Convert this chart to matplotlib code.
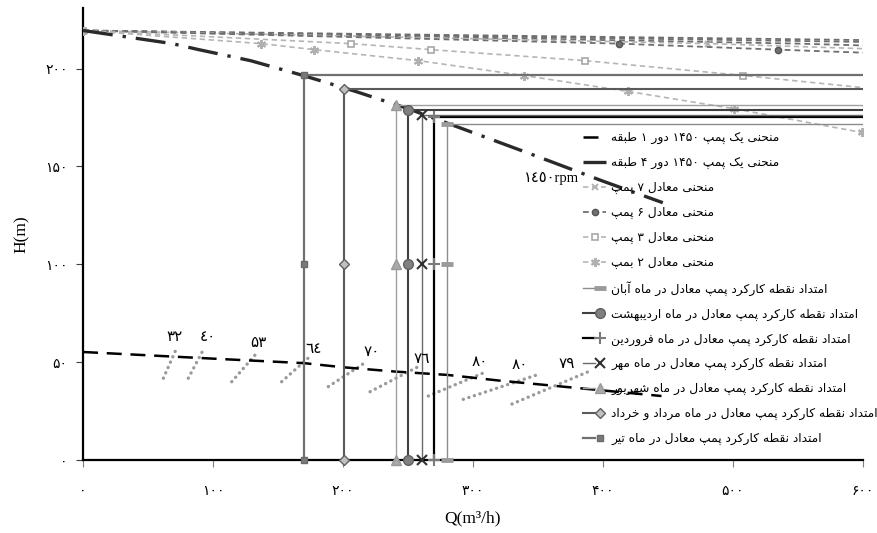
import re
import matplotlib
matplotlib.use("Agg")
import matplotlib.pyplot as plt
from matplotlib.legend_handler import HandlerTuple
from matplotlib.font_manager import FontProperties

# ---------------- simple Arabic/Persian shaping for display ----------------
DUAL = {
    'ب': (0xFE8F, 0xFE90, 0xFE91, 0xFE92), 'پ': (0xFB56, 0xFB57, 0xFB58, 0xFB59),
    'ت': (0xFE95, 0xFE96, 0xFE97, 0xFE98), 'ث': (0xFE99, 0xFE9A, 0xFE9B, 0xFE9C),
    'ج': (0xFE9D, 0xFE9E, 0xFE9F, 0xFEA0), 'چ': (0xFB7A, 0xFB7B, 0xFB7C, 0xFB7D),
    'ح': (0xFEA1, 0xFEA2, 0xFEA3, 0xFEA4), 'خ': (0xFEA5, 0xFEA6, 0xFEA7, 0xFEA8),
    'س': (0xFEB1, 0xFEB2, 0xFEB3, 0xFEB4), 'ش': (0xFEB5, 0xFEB6, 0xFEB7, 0xFEB8),
    'ط': (0xFEC1, 0xFEC2, 0xFEC3, 0xFEC4), 'ع': (0xFEC9, 0xFECA, 0xFECB, 0xFECC),
    'ف': (0xFED1, 0xFED2, 0xFED3, 0xFED4), 'ق': (0xFED5, 0xFED6, 0xFED7, 0xFED8),
    'ک': (0xFB8E, 0xFB8F, 0xFB90, 0xFB91), 'گ': (0xFB92, 0xFB93, 0xFB94, 0xFB95),
    'ل': (0xFEDD, 0xFEDE, 0xFEDF, 0xFEE0), 'م': (0xFEE1, 0xFEE2, 0xFEE3, 0xFEE4),
    'ن': (0xFEE5, 0xFEE6, 0xFEE7, 0xFEE8), 'ه': (0xFEE9, 0xFEEA, 0xFEEB, 0xFEEC),
    'ی': (0xFBFC, 0xFBFD, 0xFBFE, 0xFBFF),
}
RIGHT = {
    'ا': (0xFE8D, 0xFE8E), 'آ': (0xFE81, 0xFE82), 'د': (0xFEA9, 0xFEAA),
    'ذ': (0xFEAB, 0xFEAC), 'ر': (0xFEAD, 0xFEAE), 'ز': (0xFEAF, 0xFEB0),
    'ژ': (0xFB8A, 0xFB8B), 'و': (0xFEED, 0xFEEE),
}


def rtl(s):
    out = []
    for i, c in enumerate(s):
        if c in DUAL or c in RIGHT:
            prev = s[i - 1] if i > 0 else ''
            nxt = s[i + 1] if i < len(s) - 1 else ''
            jp = prev in DUAL
            jn = c in DUAL and (nxt in DUAL or nxt in RIGHT)
            f = DUAL.get(c) or RIGHT.get(c)
            if jp and jn:
                out.append(chr(f[3]))
            elif jp:
                out.append(chr(f[1]))
            elif jn:
                out.append(chr(f[2]))
            else:
                out.append(chr(f[0]))
        else:
            out.append(c)
    toks = re.findall(r'[0-9\u0660-\u0669\u06F0-\u06F9]+|.', ''.join(out))
    return ''.join(reversed(toks))


# ---------------- data ----------------
x_max = 600
y_max = 231

# one pump, 1450 rpm, 1 stage
q_1stage = [0, 100, 170, 200, 240, 280, 320, 445]
h_1stage = [55.2, 51.8, 49.5, 47.4, 45.2, 43.5, 40.6, 32.7]

# one pump, 1450 rpm, 4 stages
q_4stage = [0, 68.7, 89.2, 128.8, 169.4, 209.5, 250.3, 299.6, 350, 400, 446]
h_4stage = [219.5, 212.8, 209.7, 204.1, 196.5, 188.4, 179.5, 167.4, 155, 142.5, 131.5]

# equivalent curves (legend entries)
q_7pump = [0, 481, 624, 902]
h_7pump = [219.5, 212.8, 209.7, 204.1]
q_6pump = [0, 412, 535, 773]
h_6pump = [219.5, 212.8, 209.7, 204.1]
q_3pump = [0, 206, 268, 386, 508, 628]
h_3pump = [219.5, 212.8, 209.7, 204.1, 196.5, 188.4]
q_2pump = [0, 137, 178, 258, 339, 419, 501, 599]
h_2pump = [219.5, 212.8, 209.7, 204.1, 196.5, 188.4, 179.5, 167.4]

# further equivalent curves in the top bundle (no legend entry)
q_bundle_a = [0, 550, 714]
h_bundle_a = [219.5, 212.8, 209.7]
q_bundle_b = [0, 687, 892]
h_bundle_b = [219.5, 212.8, 209.7]
q_bundle_c = [0, 824, 1070]
h_bundle_c = [219.5, 212.8, 209.7]

# operating points per month
months = ['آبان', 'اردیبهشت', 'فروردین', 'مهر', 'شهریور', 'مرداد و خرداد', 'تیر']
op_q = [280, 250, 270, 260.8, 240.5, 200.5, 170.2]
op_h = [171.9, 178.7, 175.1, 176.5, 181.6, 189.6, 196.6]
mid_h = 100

# efficiency marks
eff_labels = ['٣٢', '٤٠', '۵٣', '٦٤', '٧٠', '٧٦', '٨٠', '٨٠', '٧٩']
eff_q0 = [61.8, 81.0, 114.4, 152.8, 188.7, 220.8, 265.6, 292.5, 330.0]
eff_h0 = [41.8, 41.8, 40.0, 40.0, 37.5, 34.9, 32.7, 31.0, 28.6]
eff_q1 = [72.0, 92.5, 133.6, 175.9, 218.2, 260.5, 310.5, 349.2, 390.0]
eff_h1 = [57.1, 56.3, 54.6, 53.7, 50.3, 48.6, 45.2, 43.5, 45.5]
eff_lq = [70.8, 96.4, 134.8, 177.2, 222.0, 260.5, 305.4, 336.0, 372.0]
eff_lh = [63.1, 63.1, 60.0, 57.1, 55.4, 52.0, 50.3, 48.6, 49.5]

x_ticks = [0, 100, 200, 300, 400, 500, 600]
x_ticklabels = ['۰', '۱۰۰', '۲۰۰', '۳۰۰', '۴۰۰', '۵۰۰', '۶۰۰']
y_ticks = [0, 50, 100, 150, 200]
y_ticklabels = ['۰', '۵۰', '۱۰۰', '۱۵۰', '۲۰۰']

# ---------------- styles ----------------
plt.rcParams['font.family'] = ['Liberation Serif', 'DejaVu Sans']

month_style = {
    'آبان': dict(lc='#8c8c8c', lw=1.0, marker='_', ms=9, mfc='#9a9a9a', mec='#9a9a9a', mew=3.5),
    'اردیبهشت': dict(lc='#404040', lw=1.5, marker='o', ms=7, mfc='#808080', mec='#606060', mew=1),
    'فروردین': dict(lc='#000000', lw=1.6, marker='+', ms=8, mfc='#7a7a7a', mec='#7a7a7a', mew=1.5),
    'مهر': dict(lc='#6a6a6a', lw=1.0, marker='x', ms=7, mfc='#303030', mec='#303030', mew=1.5),
    'شهریور': dict(lc='#a0a0a0', lw=1.0, marker='^', ms=7, mfc='#a8a8a8', mec='#999999', mew=1),
    'مرداد و خرداد': dict(lc='#5a5a5a', lw=1.5, marker='D', ms=5.5, mfc='#c0c0c0', mec='#606060', mew=1),
    'تیر': dict(lc='#707070', lw=1.6, marker='s', ms=4.5, mfc='#7a7a7a', mec='#6a6a6a', mew=1),
}

fig = plt.figure(figsize=(8.78, 5.33), dpi=100)
ax = fig.add_axes([83 / 878, 73 / 533, 780 / 878, 452 / 533])
ax.set_xlim(0, x_max)
ax.set_ylim(0, y_max)

handles = []
labels = []

dash = (0, (3.2, 2.2))
for qb, hb in [(q_bundle_a, h_bundle_a), (q_bundle_b, h_bundle_b), (q_bundle_c, h_bundle_c)]:
    ax.plot(qb, hb, color='#6e6e6e', lw=1.3, ls=dash, zorder=2)

# pump curves
l1, = ax.plot(q_1stage, h_1stage, color='black', lw=1.8, ls=(0, (6, 3.5)), zorder=4)
handles.append(l1)
labels.append(rtl('منحنی یک پمپ ۱۴۵۰ دور ۱ طبقه'))
l4, = ax.plot(q_4stage, h_4stage, color='#2a2a2a', lw=2.4, ls=(0, (9, 3, 1, 3)), zorder=4)
handles.append(l4)
labels.append(rtl('منحنی یک پمپ ۱۴۵۰ دور ۴ طبقه'))

e7, = ax.plot(q_7pump, h_7pump, color='#b5b5b5', lw=1.2, ls=dash, marker='x', ms=5,
              mew=1.3, mec='#b0b0b0', zorder=3)
e6, = ax.plot(q_6pump, h_6pump, color='#6e6e6e', lw=1.3, ls=dash, marker='o', ms=4.5,
              mfc='#707070', mec='#555555', zorder=3)
e3, = ax.plot(q_3pump, h_3pump, color='#b5b5b5', lw=1.2, ls=dash, marker='s', ms=5,
              mfc='white', mec='#a8a8a8', mew=1.2, zorder=3)
e2, = ax.plot(q_2pump, h_2pump, color='#b5b5b5', lw=1.2, ls=dash, marker=(6, 2, 0), ms=6.5,
              mew=1.4, mec='#b0b0b0', zorder=3)
for h, n in [(e7, '۷'), (e6, '۶'), (e3, '۳')]:
    handles.append(h)
    labels.append(rtl('منحنی معادل ' + n + ' پمپ'))
handles.append(e2)
labels.append(rtl('منحنی معادل ۲ بمپ'))

# operating point extensions
for m, q, h in zip(months, op_q, op_h):
    st = month_style[m]
    ln, = ax.plot([x_max, q, q, q], [h, h, mid_h, 0], color=st['lc'], lw=st['lw'], zorder=5)
    mk, = ax.plot([q, q, q], [h, mid_h, 0], ls='none', marker=st['marker'], ms=st['ms'],
                  mfc=st['mfc'], mec=st['mec'], mew=st['mew'], zorder=6, clip_on=False)
    handles.append((ln, mk))
    labels.append(rtl('امتداد نقطه کارکرد پمپ معادل در ماه ' + m))

# efficiency marks
for lab, a0, b0, a1, b1, lq, lh in zip(eff_labels, eff_q0, eff_h0, eff_q1, eff_h1, eff_lq, eff_lh):
    ax.plot([a0, a1], [b0, b1], color='#9a9a9a', lw=2.4, ls=(0, (0.05, 1.7)),
            dash_capstyle='round', zorder=3)
    ax.text(lq, lh, lab, fontsize=11, ha='center', va='center', color='black',
            family=['DejaVu Sans'], zorder=7)

ax.text(360.8, 143.7, '١٤٥٠rpm', fontsize=10.5, ha='center', va='center',
        family=['Liberation Serif', 'DejaVu Sans'], zorder=7)

# axes styling
for s in ['top', 'right']:
    ax.spines[s].set_visible(False)
for s in ['left', 'bottom']:
    ax.spines[s].set_color('black')
    ax.spines[s].set_linewidth(1.6)
ax.set_xticks(x_ticks)
ax.set_xticklabels(x_ticklabels, family=['DejaVu Sans'], fontsize=10)
ax.set_yticks(y_ticks)
ax.set_yticklabels(y_ticklabels, family=['DejaVu Sans'], fontsize=10)
ax.tick_params(axis='x', length=5, width=0.8, color='#808080', pad=12)
ax.tick_params(axis='y', length=5, width=0.8, color='#404040', pad=6)
ax.set_xlabel('Q(m³/h)', fontsize=12.5, family=['Liberation Serif', 'DejaVu Sans'], labelpad=9)
ax.set_ylabel('H(m)', fontsize=12.5, family=['Liberation Serif', 'DejaVu Sans'], labelpad=11)

leg = fig.legend(handles, labels, loc='upper left', bbox_to_anchor=(583 / 878, 1 - 131 / 533),
                 frameon=False, borderpad=0, borderaxespad=0, handlelength=1.9,
                 handletextpad=0.4, labelspacing=0.97, numpoints=1,
                 prop=FontProperties(family=['DejaVu Sans'], size=8.8),
                 handler_map={tuple: HandlerTuple(ndivide=None)})

fig.savefig('out.png', dpi=100)
